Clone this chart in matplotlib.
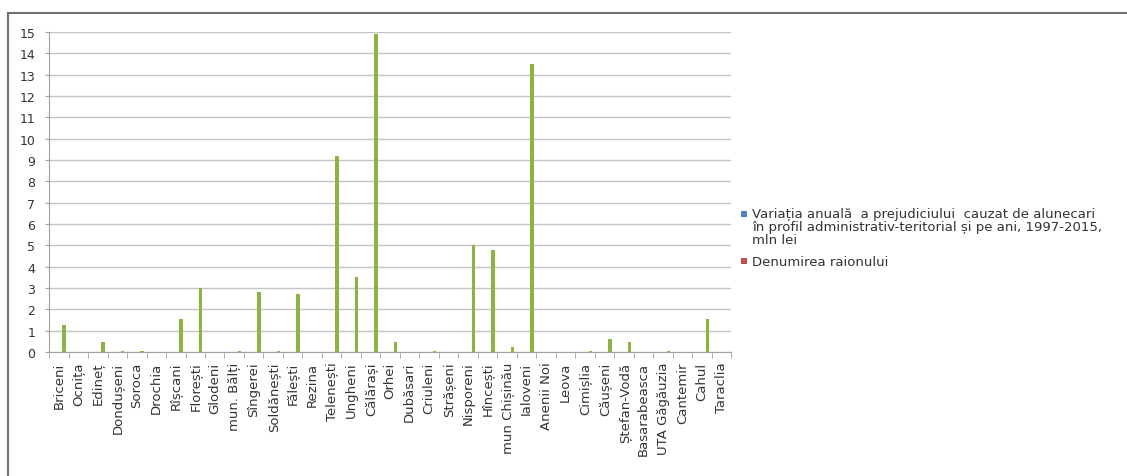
import matplotlib
matplotlib.use('Agg')
from matplotlib import pyplot as plt
from matplotlib.patches import Rectangle
import numpy as np

# Date
raioane = ['Briceni', 'Ocnița', 'Edineț', 'Dondușeni', 'Soroca', 'Drochia', 'Rîșcani',
           'Florești', 'Glodeni', 'mun. Bălți', 'Sîngerei', 'Soldănești', 'Fălești', 'Rezina',
           'Telenești', 'Ungheni', 'Călărași', 'Orhei', 'Dubăsari', 'Criuleni', 'Strășeni',
           'Nisporeni', 'Hîncești', 'mun Chișinău', 'Ialoveni', 'Anenii Noi', 'Leova',
           'Cimișlia', 'Căușeni', 'Ștefan-Vodă', 'Basarabeasca', 'UTA Găgăuzia', 'Cantemir',
           'Cahul', 'Taraclia']
prejudiciu = [1.25, 0, 0.45, 0.03, 0.05, 0, 1.55,
              3.0, 0, 0.05, 2.8, 0.05, 2.7, 0,
              9.2, 3.5, 14.9, 0.45, 0, 0.03, 0,
              5.0, 4.8, 0.25, 13.5, 0, 0,
              0.05, 0.6, 0.45, 0, 0.05, 0,
              1.55, 0]
legenda = [['Variația anuală  a prejudiciului  cauzat de alunecari',
            'în profil administrativ-teritorial și pe ani, 1997-2015,',
            'mln lei'],
           ['Denumirea raionului']]
culori_legenda = ['#4f81bd', '#c0504d']

plt.rcParams['font.family'] = ['DejaVu Sans']

fig = plt.figure(figsize=(11.27, 4.77), dpi=100)
ax = fig.add_axes([0.0435, 0.26, 0.6055, 0.671])

x = np.arange(len(raioane))
# seria verde este a treia din grup, deci deplasata spre dreapta
ax.bar(x + 0.27, prejudiciu, width=0.17, color='#8db443', zorder=3)

ax.set_xlim(-0.5, len(raioane) - 0.5)
ax.set_ylim(0, 15)
ax.set_yticks(range(0, 16))
ax.tick_params(axis='y', labelsize=9, length=3, pad=7, color='#a0a0a0', labelcolor='#333333')
ax.yaxis.grid(True, color='#c4c4c4', linewidth=1.0, zorder=0)

ax.set_xticks(x)
ax.set_xticklabels(raioane, rotation=90, fontsize=9.5, color='#333333')
ax.set_xticks(np.arange(-0.5, len(raioane)), minor=True)
ax.tick_params(axis='x', which='major', length=0, pad=7)
ax.tick_params(axis='x', which='minor', length=4, color='#a0a0a0')

for side in ['top', 'right']:
    ax.spines[side].set_visible(False)
ax.spines['left'].set_color('#a0a0a0')
ax.spines['bottom'].set_color('#a0a0a0')

# Legenda (patratelul aliniat cu primul rand, ca in Excel)
W, H = 1127, 477
y_start = [215, 262]
for linii, culoare, y0 in zip(legenda, culori_legenda, y_start):
    fig.patches.append(Rectangle((741 / W, 1 - (y0 + 3) / H), 6 / W, 6 / H,
                                 transform=fig.transFigure, facecolor=culoare,
                                 edgecolor='none'))
    for i, linie in enumerate(linii):
        fig.text(752 / W, 1 - (y0 + 13 * i) / H, linie, fontsize=9.5,
                 color='#333333', va='center', ha='left')

# Chenar
fig.patches.append(Rectangle((0.007, -0.01), 1.0, 0.98, transform=fig.transFigure,
                             fill=False, edgecolor='#707070', linewidth=1.5))

fig.savefig('out.png', dpi=100)
